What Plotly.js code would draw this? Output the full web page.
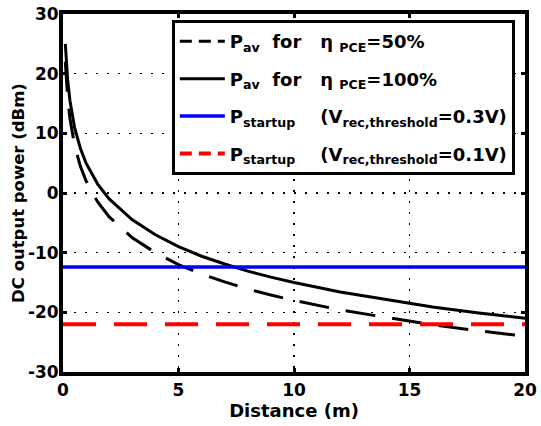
<!DOCTYPE html>
<html>
<head>
<meta charset="utf-8">
<script src="https://cdn.plot.ly/plotly-3.0.1.min.js"></script>
<style>html,body{margin:0;padding:0;background:#fff;}#chart{width:541px;height:426px;}</style>
</head>
<body>
<div id="chart"></div>
<script>
// Distance (m)
const distance = [0.1, 0.2, 0.3, 0.5, 0.75, 1, 1.5, 2, 3, 4, 5, 6, 7, 8, 9, 10, 12, 14, 16, 18, 20];
// P_av for eta_PCE = 100% (dBm)
const pav100 = [25, 19, 15.5, 11, 7.5, 5, 1.5, -1, -4.5, -7, -9, -10.6, -11.9, -13.1, -14.1, -15, -16.6, -17.9, -19.1, -20.1, -21];
// P_av for eta_PCE = 50% (dBm)
const pav50 = [22, 16, 12.5, 8, 4.5, 2, -1.5, -4, -7.5, -10, -12, -13.6, -14.9, -16.1, -17.1, -18, -19.6, -20.9, -22.1, -23.1, -24];
// Startup thresholds (dBm)
const startupX = [0, 20];
const startup03 = [-12.4, -12.4];
const startup01 = [-22, -22];

const xTicks = [0, 5, 10, 15, 20];
const yTicks = [-30, -20, -10, 0, 10, 20, 30];

const names = [
  'P<sub>av</sub>&nbsp;&nbsp;for&nbsp;&nbsp;&nbsp;η&nbsp;<sub>PCE</sub>=50%',
  'P<sub>av</sub>&nbsp;&nbsp;for&nbsp;&nbsp;&nbsp;η&nbsp;<sub>PCE</sub>=100%',
  'P<sub>startup</sub>&nbsp;&nbsp;&nbsp;&nbsp;(V<sub>rec,threshold</sub>=0.3V)',
  'P<sub>startup</sub>&nbsp;&nbsp;&nbsp;&nbsp;(V<sub>rec,threshold</sub>=0.1V)'
];

const FONT = "DejaVu Sans, Arial, sans-serif";

const styles = [
  {color: 'black', width: 3, dash: '30px,17px'},
  {color: 'black', width: 3},
  {color: '#0000ff', width: 3.5},
  {color: '#ff0000', width: 4, dash: '33px,18px'}
];
const legendDash = ['12px,7px', 'solid', 'solid', '12px,7px'];
const series = [[distance, pav50], [distance, pav100], [startupX, startup03], [startupX, startup01]];

const traces = [];
series.forEach((s, i) => {
  traces.push({x: s[0], y: s[1], mode: 'lines', line: styles[i], showlegend: false, hoverinfo: 'skip'});
});
series.forEach((s, i) => {
  traces.push({x: [null], y: [null], mode: 'lines',
    line: Object.assign({}, styles[i], {dash: legendDash[i]}),
    name: names[i], legendgroup: 'g' + i, showlegend: true});
});

const axisCommon = {
  showline: true, linecolor: 'black', linewidth: 4, mirror: 'ticks',
  ticks: 'inside', ticklen: 4, tickwidth: 3, tickcolor: 'black',
  showgrid: true, gridcolor: 'black', gridwidth: 1.5, griddash: '2px,9px',
  zeroline: false, tickfont: {family: FONT, size: 17, color: 'black', weight: 'bold'}
};

const layout = {
  width: 541, height: 426,
  margin: {l: 63, r: 16, t: 14, b: 54},
  paper_bgcolor: 'white', plot_bgcolor: 'white',
  font: {family: FONT, color: 'black', weight: 'bold'},
  showlegend: true,
  legend: {
    x: 0.978, xanchor: 'right', y: 0.983, yanchor: 'top',
    bgcolor: 'white', bordercolor: 'black', borderwidth: 3,
    font: {family: FONT, size: 18, color: 'black', weight: 'bold'},
    traceorder: 'grouped', tracegroupgap: 11, itemwidth: 45
  },
  xaxis: Object.assign({}, axisCommon, {
    range: [0, 20], tickvals: xTicks, ticktext: xTicks.map(String),
    title: {text: 'Distance (m)', font: {family: FONT, size: 18, color: 'black', weight: 'bold'}, standoff: 2}
  }),
  yaxis: Object.assign({}, axisCommon, {
    range: [-30, 30], tickvals: yTicks, ticktext: yTicks.map(String), ticklabelstandoff: -3,
    title: {text: 'DC output power (dBm)', font: {family: FONT, size: 16.5, color: 'black', weight: 'bold'}, standoff: 0}
  })
};

Plotly.newPlot('chart', traces, layout, {displayModeBar: false, staticPlot: true});
</script>
</body>
</html>
